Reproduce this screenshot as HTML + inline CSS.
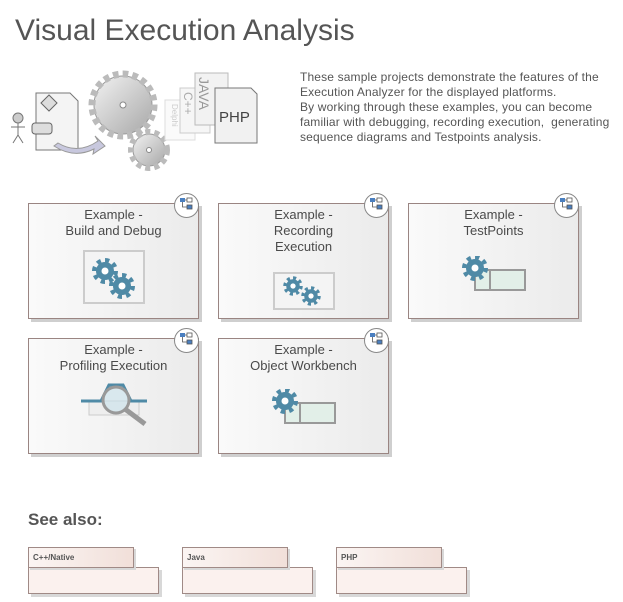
<!DOCTYPE html>
<html><head><meta charset="utf-8"><style>
body{margin:0;width:623px;height:602px;background:#fff;position:relative;overflow:hidden;font-family:"Liberation Sans",sans-serif;}
.a{position:absolute}
.card{position:absolute;width:169px;height:114px;border:1px solid #9a8582;background:linear-gradient(90deg,#fafafa,#ebebeb);box-shadow:3px 3px 0 #cfcfcf;}
.card .t{position:absolute;left:0;right:0;top:3px;text-align:center;font-size:13px;line-height:16px;color:#4a4a4a}
.badge{position:absolute;right:-1px;top:-11px;width:23px;height:23px;border-radius:50%;border:1px solid #888;background:#fff}
.pk{position:absolute}
.tab{position:absolute;left:0;top:0;border:1px solid #a08a86;background:linear-gradient(90deg,#fbf5f3,#f1dfd9);font-size:8px;font-weight:bold;color:#555;line-height:19px;padding-left:4px;box-sizing:border-box;width:106px;height:21px;box-shadow:2px 2px 0 #d8d8d8}
.bd{position:absolute;left:0;top:20px;width:129px;height:25px;border:1px solid #a08a86;background:#fbf1ee;box-shadow:3px 3px 0 #d8d8d8}
</style></head><body>
<svg width="0" height="0" style="position:absolute"><defs>
<g id="bg"><circle r="9" fill="#4f8aa6"/><circle r="10.5" fill="none" stroke="#4f8aa6" stroke-width="5" stroke-dasharray="4.1 4.1"/><circle r="3.5" fill="#fff"/></g>
<g id="badge"><rect x="-6" y="-6" width="5" height="4" fill="#4a7fc0"/><rect x="1" y="-6" width="5" height="4" fill="#fff" stroke="#555" stroke-width=".8"/><rect x="1" y="1" width="5" height="4" fill="#4a7fc0" stroke="#555" stroke-width=".8"/><path d="M-3.5 -2 V3 H1 M-1 -4 H1" stroke="#555" fill="none" stroke-width=".8"/></g>
</defs></svg>
<div class="a" style="left:15px;top:14px;font-size:30px;color:#555;">Visual Execution Analysis</div>
<div class="a" style="left:300px;top:70px;font-size:12px;line-height:15px;color:#555;width:320px;letter-spacing:0.15px">These sample projects demonstrate the features of the<br>Execution Analyzer for the displayed platforms.<br>By working through these examples, you can become<br>familiar with debugging, recording execution,&nbsp; generating<br>sequence diagrams and Testpoints analysis.</div>
<svg class="a" style="left:0;top:60px" width="270" height="120">
<defs><linearGradient id="gg" x1="0" y1="0" x2="1" y2="1"><stop offset="0" stop-color="#f2f2f2"/><stop offset="1" stop-color="#a8a8a8"/></linearGradient></defs>
<circle cx="18" cy="58" r="5" fill="#ccc" stroke="#777"/><path d="M18 63v12M11 67h14M18 75l-5 8M18 75l5 8" stroke="#777" fill="none"/>
<path d="M36 33h34l8 8v49h-42z" fill="#f4f4f4" stroke="#777"/>
<path d="M41 43l8-8 8 8-8 8z" fill="#ddd" stroke="#666"/><rect x="32" y="63" width="20" height="11" rx="3" fill="#ddd" stroke="#666"/>
<path d="M58 83q20 12 40 -2l-3 -5 10 10-12 8 1-5q-20 10-40 -3z" fill="#c8c8de" stroke="#999"/>
<circle cx="123" cy="45" r="29" fill="url(#gg)" stroke="#999"/><circle cx="123" cy="45" r="31" fill="none" stroke="#bbb" stroke-width="7" stroke-dasharray="5.6 4.1"/><circle cx="123" cy="45" r="3" fill="#fff" stroke="#888"/>
<circle cx="149" cy="90" r="16" fill="url(#gg)" stroke="#999"/><circle cx="149" cy="90" r="18" fill="none" stroke="#bbb" stroke-width="6" stroke-dasharray="5 4"/><circle cx="149" cy="90" r="2.5" fill="#fff" stroke="#888"/>
<rect x="165" y="40" width="30" height="40" fill="#fafafa" stroke="#ddd"/><text transform="translate(172,44) rotate(90)" font-size="8" fill="#ccc">Delphi</text>
<rect x="180" y="28" width="30" height="45" fill="#f6f6f6" stroke="#ccc"/><text transform="translate(184,32) rotate(90)" font-size="12" fill="#aaa">C++</text>
<rect x="195" y="13" width="33" height="52" fill="#f2f2f2" stroke="#bbb"/><text transform="translate(199,17) rotate(90)" font-size="14" fill="#999">JAVA</text>
<path d="M215 28h36l6 6v49h-42z" fill="#f1f1f1" stroke="#777"/><text x="219" y="62" font-size="15" fill="#444">PHP</text>
</svg>

<div class="card" style="left:28px;top:203px"><div class="t">Example -<br>Build and Debug</div><div class="badge"></div>
<svg class="a" style="left:54px;top:46px" width="62" height="54"><rect x="1" y="1" width="60" height="52" fill="#f4f4f4" stroke="#ccc" stroke-width="2"/><use href="#bg" x="22" y="21"/><use href="#bg" x="39" y="36"/></svg></div>
<div class="card" style="left:218px;top:203px"><div class="t">Example -<br>Recording<br>Execution</div><div class="badge"></div>
<svg class="a" style="left:54px;top:68px" width="62" height="38"><rect x="1" y="1" width="60" height="36" fill="#f4f4f4" stroke="#ccc" stroke-width="2"/><g transform="translate(20,14) scale(.75)"><use href="#bg"/></g><g transform="translate(38,24) scale(.75)"><use href="#bg"/></g></svg></div>
<div class="card" style="left:408px;top:203px"><div class="t">Example -<br>TestPoints</div><div class="badge"></div>
<svg class="a" style="left:52px;top:52px" width="70" height="38"><rect x="14" y="14" width="50" height="20" fill="#e2efe8" stroke="#999" stroke-width="2"/><line x1="29" y1="14" x2="29" y2="34" stroke="#999" stroke-width="2"/><use href="#bg" x="14" y="12"/></svg></div>
<div class="card" style="left:28px;top:338px"><div class="t">Example -<br>Profiling Execution</div><div class="badge"></div>
<svg class="a" style="left:50px;top:38px" width="80" height="62"><rect x="10" y="24" width="50" height="14" fill="#eee" stroke="#ccc"/><path d="M2 24h20l8-16 14 0 8 16h16" stroke="#4f8aa6" stroke-width="3" fill="none"/><circle cx="37" cy="23" r="13" fill="rgba(200,225,235,.6)" stroke="#999" stroke-width="3"/><line x1="46" y1="32" x2="66" y2="47" stroke="#999" stroke-width="5"/></svg></div>
<div class="card" style="left:218px;top:338px"><div class="t">Example -<br>Object Workbench</div><div class="badge"></div>
<svg class="a" style="left:52px;top:50px" width="70" height="38"><rect x="14" y="14" width="50" height="20" fill="#e2efe8" stroke="#999" stroke-width="2"/><line x1="29" y1="14" x2="29" y2="34" stroke="#999" stroke-width="2"/><use href="#bg" x="14" y="12"/></svg></div>

<svg class="a" style="left:0;top:0;pointer-events:none" width="623" height="602">
<use href="#badge" x="186" y="204"/><use href="#badge" x="376" y="204"/><use href="#badge" x="566" y="204"/><use href="#badge" x="186" y="339"/><use href="#badge" x="376" y="339"/>
</svg>

<div class="a" style="left:28px;top:510px;font-size:17px;font-weight:bold;color:#555">See also:</div>
<div class="pk" style="left:28px;top:547px"><div class="bd"></div><div class="tab">C++/Native</div></div>
<div class="pk" style="left:182px;top:547px"><div class="bd"></div><div class="tab">Java</div></div>
<div class="pk" style="left:336px;top:547px"><div class="bd"></div><div class="tab">PHP</div></div>
</body></html>
